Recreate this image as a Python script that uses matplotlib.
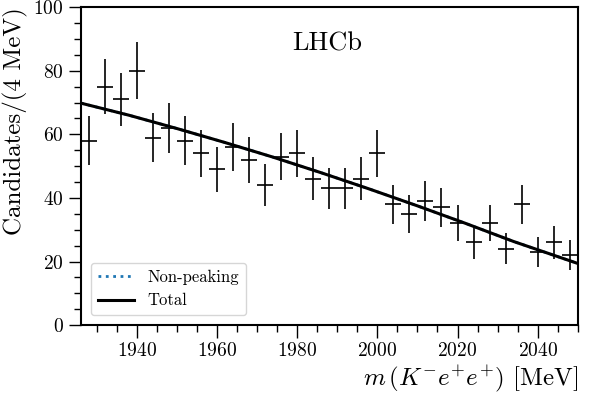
import numpy as np
import matplotlib
matplotlib.use("Agg")
import matplotlib.pyplot as plt
from matplotlib.ticker import MultipleLocator

matplotlib.rcParams['font.family'] = 'serif'
matplotlib.rcParams['font.serif'] = ['cmr10']
matplotlib.rcParams['mathtext.fontset'] = 'cm'
matplotlib.rcParams['axes.formatter.use_mathtext'] = True
matplotlib.rcParams['axes.unicode_minus'] = False

# bin centres (4 MeV bins) and candidate counts
bin_centres = [1928, 1932, 1936, 1940, 1944, 1948, 1952, 1956, 1960, 1964,
               1968, 1972, 1976, 1980, 1984, 1988, 1992, 1996, 2000, 2004,
               2008, 2012, 2016, 2020, 2024, 2028, 2032, 2036, 2040, 2044, 2048]
counts = [58, 75, 71, 80, 59, 62, 58, 54, 49, 56,
          52, 44, 53, 54, 46, 43, 43, 46, 54, 38,
          35, 39, 37, 32, 26, 32, 24, 38, 23, 26, 22]

# fitted model
fit_mass = [1926, 1938, 1950, 1962, 1974, 1986, 1998, 2010, 2022, 2034, 2050]
fit_total = [69.8, 66.0, 61.8, 57.4, 52.8, 47.9, 42.8, 37.5, 32.0, 26.3, 19.4]
fit_nonpeaking = fit_total

fig = plt.figure(figsize=(5.98, 3.96), dpi=100)
ax = fig.add_axes([0.1355, 0.179, 0.8305, 0.803])

ax.errorbar(bin_centres, counts, xerr=2, yerr=np.sqrt(counts), fmt='none',
            ecolor='black', elinewidth=1.2, capsize=0, zorder=2)
ax.plot(fit_mass, fit_nonpeaking, color='tab:blue', linestyle=':', linewidth=2,
        label='Non-peaking', zorder=3)
ax.plot(fit_mass, fit_total, color='black', linewidth=2.2, label='Total', zorder=4)

ax.set_xlim(1926, 2050)
ax.set_ylim(0, 100)
ax.xaxis.set_major_locator(MultipleLocator(20))
ax.xaxis.set_minor_locator(MultipleLocator(5))
ax.yaxis.set_major_locator(MultipleLocator(20))
ax.yaxis.set_minor_locator(MultipleLocator(5))
ax.tick_params(which='major', direction='out', length=9, width=1.0, labelsize=14)
ax.tick_params(which='minor', direction='out', length=5, width=1.0)
for s in ax.spines.values():
    s.set_linewidth(1.5)

ax.set_xlabel(r'$m\,(K^{-}e^{+}e^{+})$ [MeV]', fontsize=18, loc='right', labelpad=2)
ax.set_ylabel(r'Candidates/(4 MeV)', fontsize=18, loc='top', labelpad=4)

ax.text(0.495, 0.884, 'LHCb', transform=ax.transAxes, fontsize=19,
        ha='center', va='center')

ax.legend(loc='lower left', fontsize=12, frameon=True, handlelength=2.2,
          borderaxespad=0.6)

fig.savefig('out.png', dpi=100)
